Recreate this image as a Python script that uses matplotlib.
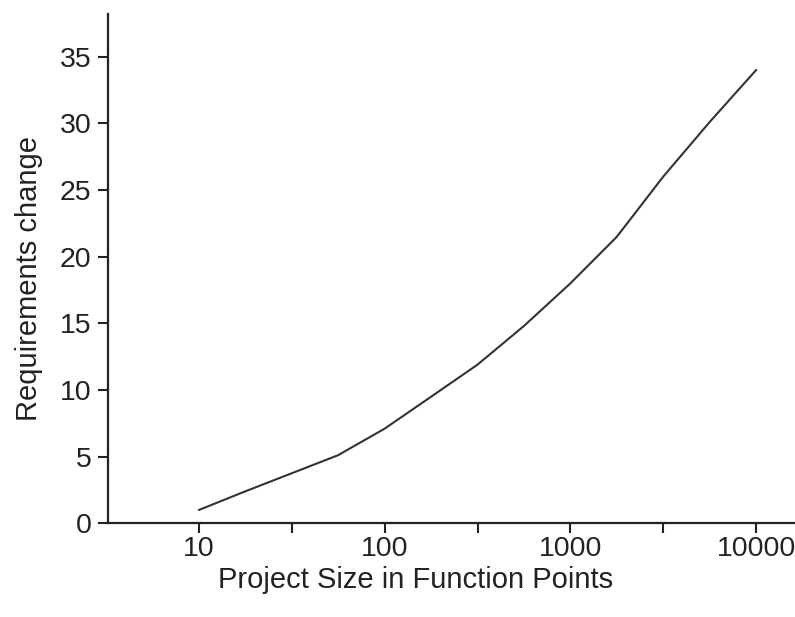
import matplotlib
matplotlib.use("Agg")
import matplotlib.pyplot as plt
from matplotlib.ticker import FixedLocator, NullLocator

# Values
project_size = [10, 17.8, 56, 100, 178, 316, 562, 1000, 1780, 3160, 5620, 10000]
req_change = [1.0, 2.4, 5.1, 7.1, 9.5, 11.9, 14.8, 18.0, 21.5, 26.0, 30.1, 34.0]

x_ticks = [10 ** (k / 2) for k in range(2, 9)]
x_labels = ["10", "", "100", "", "1000", "", "10000"]
y_ticks = [0, 5, 10, 15, 20, 25, 30, 35]

plt.rcParams["font.family"] = ["Liberation Sans", "DejaVu Sans"]

fig = plt.figure(figsize=(7.95, 6.17), dpi=100)
ax = fig.add_axes([0.136, 0.152, 0.864, 0.825])

ax.plot(project_size, req_change, color="#333333", linewidth=1.5)

ax.set_xscale("log")
ax.set_xlim(10 ** 0.51, 10 ** 4.21)
ax.set_ylim(0, 38.2)

ax.xaxis.set_major_locator(FixedLocator(x_ticks))
ax.xaxis.set_minor_locator(NullLocator())
ax.set_xticklabels(x_labels)
ax.set_yticks(y_ticks)

ax.spines["top"].set_visible(False)
ax.spines["right"].set_visible(False)
for side in ("left", "bottom"):
    ax.spines[side].set_linewidth(1.6)
    ax.spines[side].set_color("#222222")

ax.tick_params(axis="both", length=7, width=1.5, color="#222222",
               labelsize=20.5, labelcolor="#222222")
ax.tick_params(axis="x", pad=2)
ax.tick_params(axis="y", pad=5)

# the label sits left of the axis centre in the original
ax.set_xlabel("Project Size in Function Points", fontsize=21,
              color="#222222", labelpad=3, x=0.447)
ax.set_ylabel("Requirements change", fontsize=21, color="#222222",
              labelpad=12, y=0.48)

fig.savefig("out.png", dpi=100)
